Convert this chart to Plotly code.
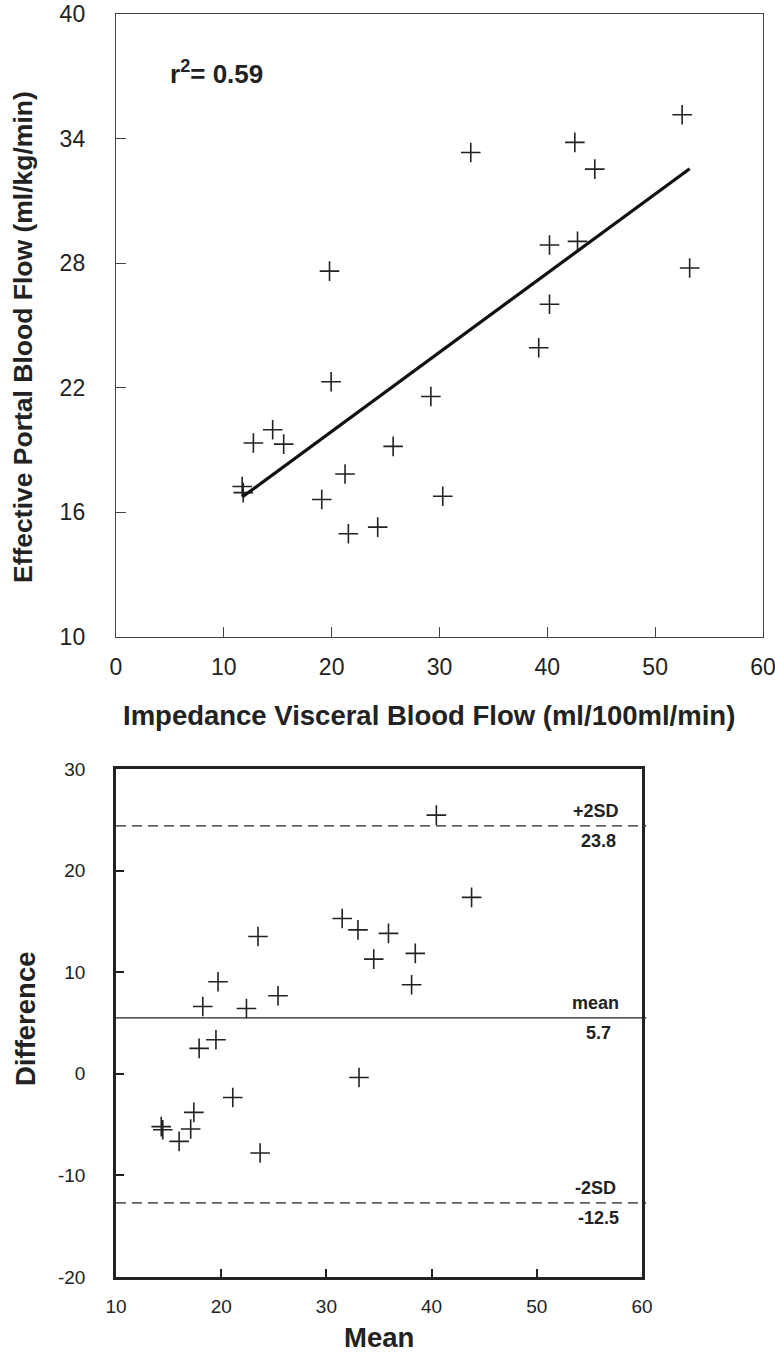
import plotly.graph_objects as go

W, H = 775, 1357
OFF = 0  # body margin is removed by post_script below

# ---- Top panel: correlation ----
impedance_flow = [52.5, 42.55, 44.4, 32.9, 40.2, 42.8, 53.2, 40.2, 39.2, 19.8, 19.95,
                  29.2, 25.7, 30.3, 12.74, 14.53, 15.55, 21.24, 19.08, 21.55, 24.27,
                  11.7, 11.8]
portal_flow = [35.15, 33.82, 32.53, 33.33, 28.88, 29.05, 27.77, 26.02, 23.93, 27.62, 22.29,
               21.58, 19.18, 16.78, 19.34, 19.98, 19.29, 17.85, 16.62, 14.97, 15.29,
               17.25, 16.95]
fit_slope = 0.381
fit_intercept = 12.28
r2_text = "r<sup>2</sup>= 0.59"
top_xticks = [0, 10, 20, 30, 40, 50, 60]
top_yticks = [10, 16, 22, 28, 34, 40]

# ---- Bottom panel: Bland-Altman ----
ba_mean = [40.45, 43.8, 35.9, 38.45, 38.1, 31.5, 33.0, 34.5, 23.5, 19.7, 25.4, 18.25,
           22.4, 19.5, 17.9, 33.1, 21.1, 17.4, 17.1, 14.3, 14.45, 16.0, 23.7]
ba_diff = [25.46, 17.36, 13.82, 11.85, 8.76, 15.29, 14.17, 11.29, 13.52, 9.06, 7.68, 6.63,
           6.43, 3.35, 2.5, -0.36, -2.33, -3.8, -5.44, -5.2, -5.5, -6.65, -7.8]
ref_line_y = [24.4, 5.5, -12.7]
ref_line_name = ["+2SD", "mean", "-2SD"]
ref_line_value = ["23.8", "5.7", "-12.5"]
ref_line_dash = ["10px,6px", "solid", "10px,6px"]
bot_xticks = [10, 20, 30, 40, 50, 60]
bot_yticks = [-20, -10, 0, 10, 20, 30]
bot_yticktext = ["-20", "-10", "0", "10", "20", "30"]

FONT = "Liberation Sans, Arial, sans-serif"
INK = "#222222"

def px(p):
    return (p - OFF) / W

def py(p):
    return 1 - (p - OFF) / H

def xd(a, b):
    return [px(a), px(b)]

def yd(top, bottom):
    return [py(bottom), py(top)]

fig = go.Figure()

marker = dict(symbol="cross-thin", size=14, line=dict(width=1.6, color=INK), color=INK)

fig.add_trace(go.Scatter(x=impedance_flow, y=portal_flow, mode="markers", marker=marker,
                         xaxis="x", yaxis="y", showlegend=False))
x0, x1 = min(impedance_flow), max(impedance_flow)
fig.add_trace(go.Scatter(x=[x0, x1], y=[fit_intercept + fit_slope * x0, fit_intercept + fit_slope * x1],
                         mode="lines", line=dict(color="#111111", width=3.2),
                         xaxis="x", yaxis="y", showlegend=False))

fig.add_trace(go.Scatter(x=ba_mean, y=ba_diff, mode="markers", marker=marker,
                         xaxis="x2", yaxis="y2", showlegend=False))

shapes = []
annotations = []
lab_font = dict(family=FONT, size=18, color=INK, weight="bold")
for yv, nm, val, dash in zip(ref_line_y, ref_line_name, ref_line_value, ref_line_dash):
    shapes.append(dict(type="line", xref="x2 domain", yref="y2", x0=0, x1=1.008, y0=yv, y1=yv,
                       line=dict(color=INK, width=1.3 if dash != "solid" else 1.4, dash=dash)))
    annotations.append(dict(xref="x2", yref="y2", x=55.6, y=yv, text=nm, showarrow=False,
                            xanchor="center", yanchor="middle", yshift=15, font=lab_font))
    annotations.append(dict(xref="x2", yref="y2", x=55.9, y=yv, text=val, showarrow=False,
                            xanchor="center", yanchor="middle", yshift=-15, font=lab_font))

annotations.append(dict(xref="x", yref="y", x=4.8, y=37.2, text=r2_text, showarrow=False,
                        xanchor="left", yanchor="middle",
                        font=dict(family=FONT, size=26, color=INK, weight="bold")))

title_font = dict(family=FONT, size=27.5, color=INK, weight="bold")
annotations.append(dict(xref="paper", yref="paper", x=px(429), y=py(715),
                        xanchor="center", yanchor="middle",
                        text="Impedance Visceral Blood Flow (ml/100ml/min)", showarrow=False,
                        font=title_font))
annotations.append(dict(xref="paper", yref="paper", x=px(23), y=py(337),
                        xanchor="center", yanchor="middle",
                        text="Effective Portal Blood Flow (ml/kg/min)", showarrow=False,
                        textangle=-90, font=dict(title_font, size=26.5)))
annotations.append(dict(xref="paper", yref="paper", x=px(379), y=py(1337),
                        xanchor="center", yanchor="middle",
                        text="Mean", showarrow=False, font=title_font))
annotations.append(dict(xref="paper", yref="paper", x=px(25), y=py(1019),
                        xanchor="center", yanchor="middle",
                        text="Difference", showarrow=False, textangle=-90, font=title_font))

top_axis = dict(showgrid=False, zeroline=False, showline=True, mirror=True, automargin=False,
                ticklabeloverflow="allow",
                linecolor="#444444", linewidth=1.4, ticks="inside", ticklen=10,
                tickwidth=1.3, tickcolor="#444444",
                tickfont=dict(family=FONT, size=23, color=INK))
bot_axis = dict(showgrid=False, zeroline=False, showline=True, mirror=True, automargin=False,
                ticklabeloverflow="allow",
                linecolor=INK, linewidth=2.6, ticks="inside", ticklen=8,
                tickwidth=2, tickcolor=INK,
                tickfont=dict(family=FONT, size=19, color=INK))

fig.update_layout(
    width=W, height=H, margin=dict(l=0, r=0, t=0, b=0),
    paper_bgcolor="white", plot_bgcolor="white",
    xaxis=dict(top_axis, domain=xd(116, 763), range=[0, 60], tickvals=top_xticks,
               anchor="y", ticklabelstandoff=9),
    yaxis=dict(top_axis, domain=yd(14, 637), range=[10, 40], tickvals=top_yticks,
               anchor="x", ticklabelstandoff=25),
    xaxis2=dict(bot_axis, domain=xd(116, 642), range=[10, 60], tickvals=bot_xticks,
                anchor="y2", ticklabelstandoff=10),
    yaxis2=dict(bot_axis, domain=yd(769, 1277), range=[-20, 30], tickvals=bot_yticks,
                ticktext=bot_yticktext, anchor="x2", ticklabelstandoff=24),
    shapes=shapes, annotations=annotations,
)

fig.write_html("out.html", config={"displayModeBar": False},
               post_script="document.body.style.margin='0px';document.body.style.overflow='hidden';")
